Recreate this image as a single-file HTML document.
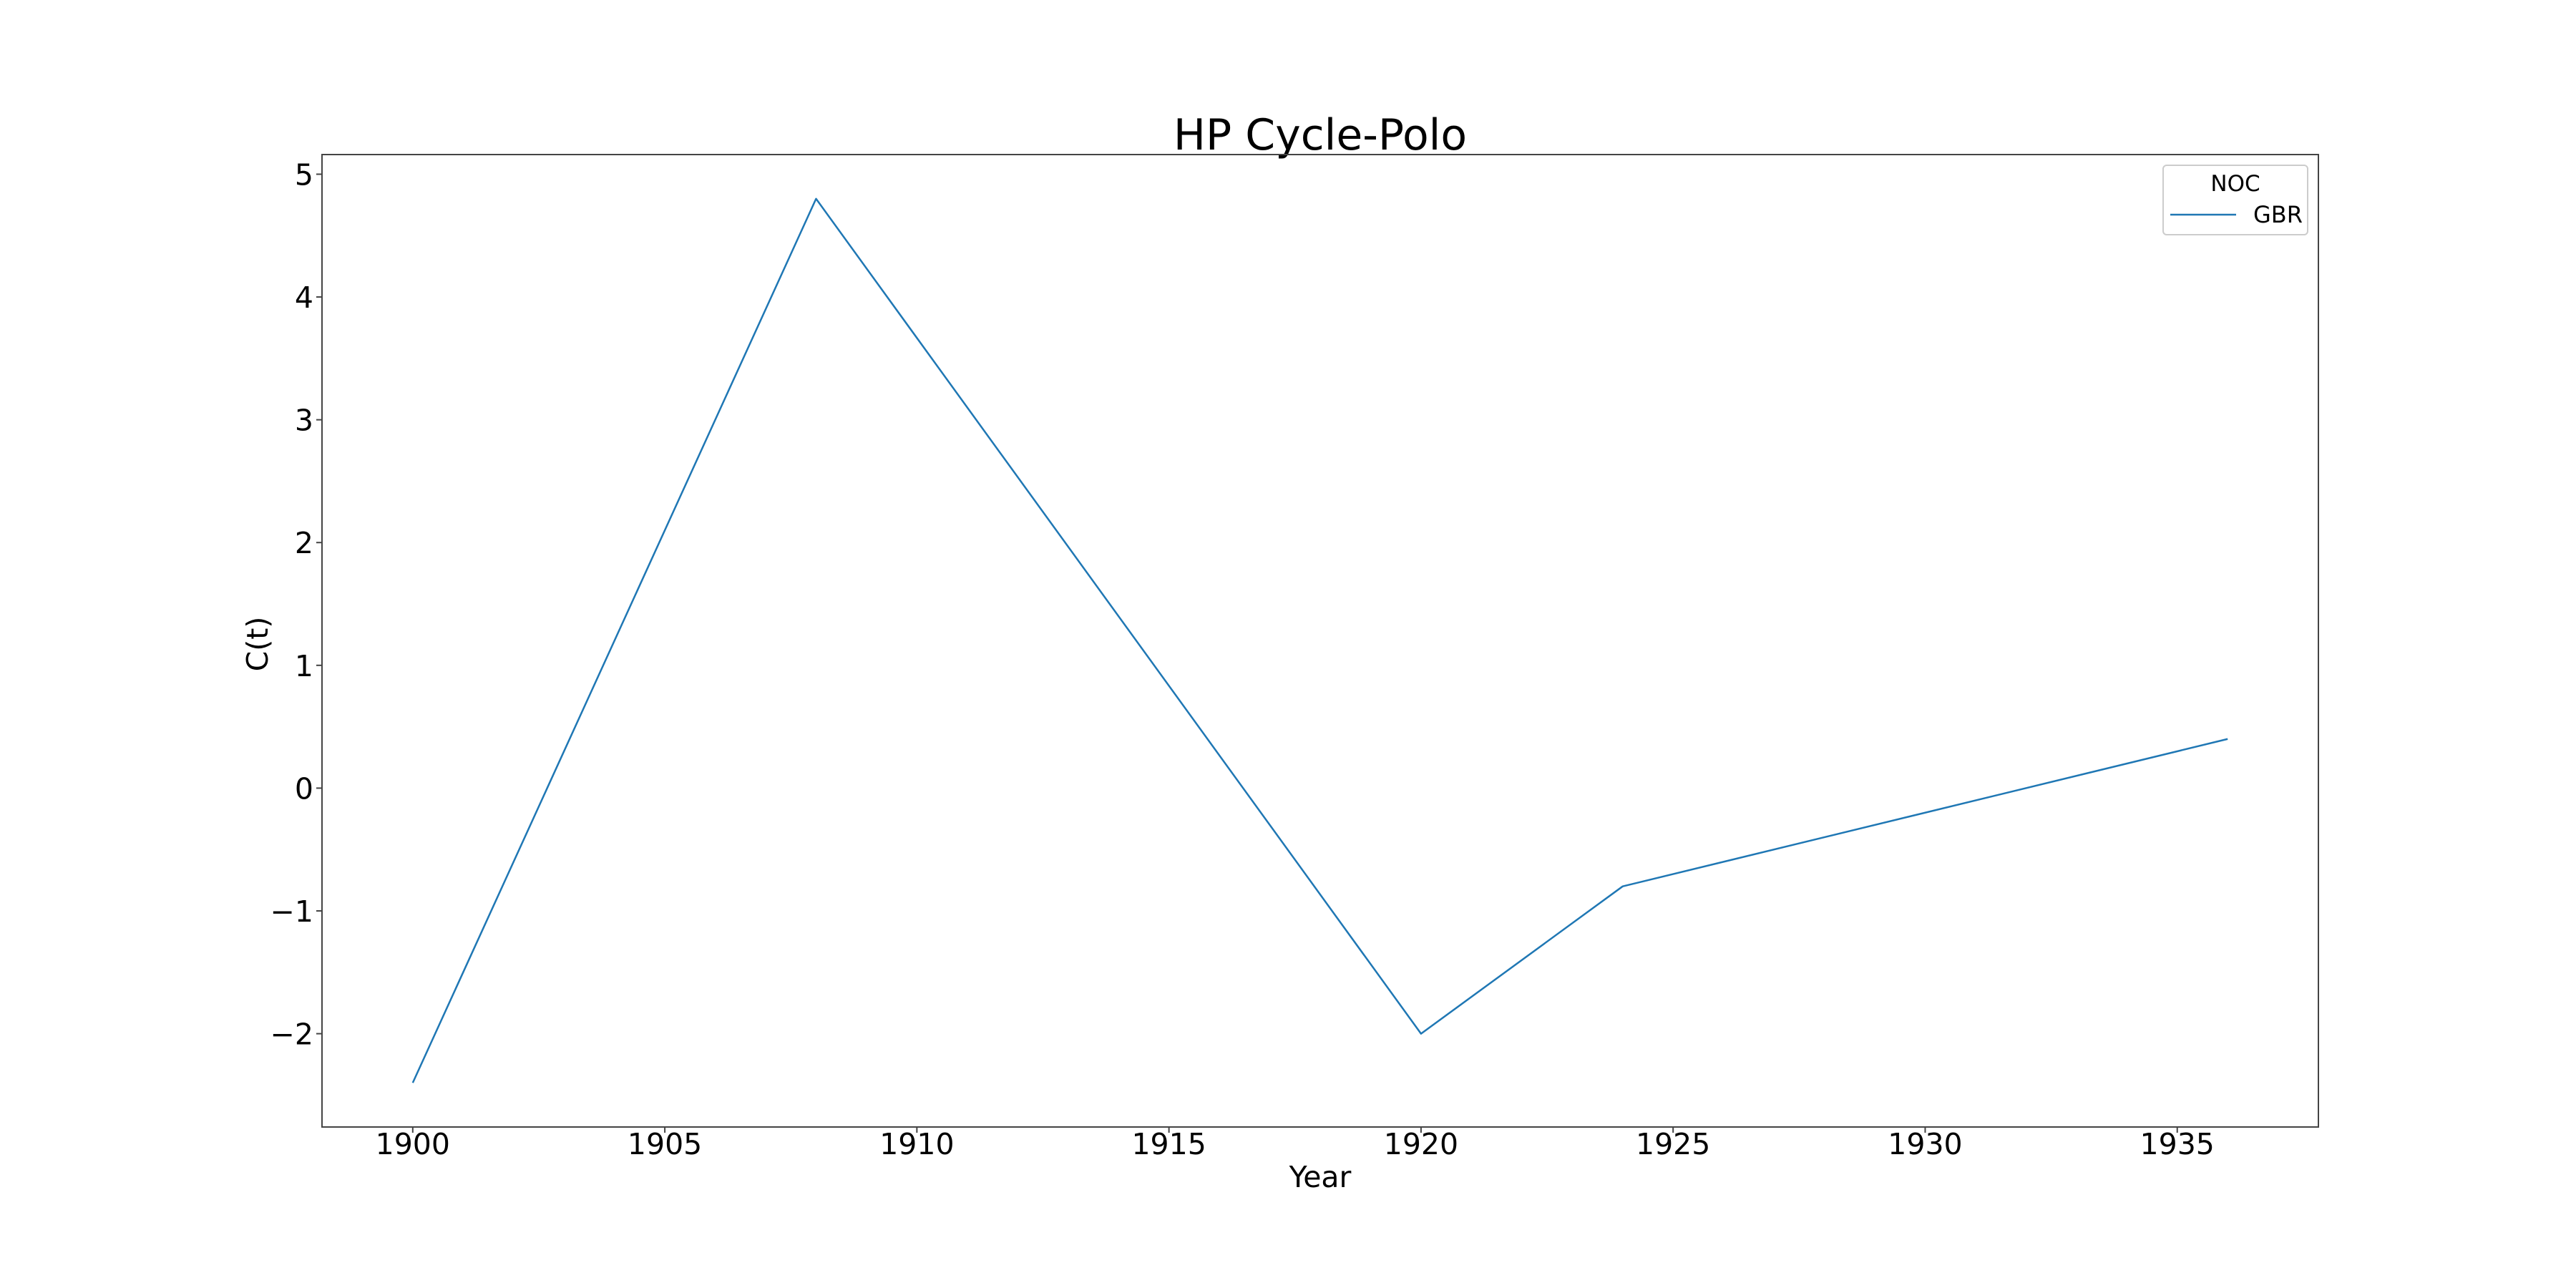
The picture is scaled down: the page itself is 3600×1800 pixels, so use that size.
<!DOCTYPE html>
<html><head><meta charset="utf-8"><style>html,body{margin:0;padding:0;background:#fff}svg{display:block}text{font-family:"DejaVu Sans","Liberation Sans",sans-serif}</style></head>
<body>
<svg id="chart" width="3600" height="1800" viewBox="0 0 3600 1800">
<rect width="3600" height="1800" fill="#fff"/>
<text x="1845" y="209" font-size="60" text-anchor="middle">HP Cycle-Polo</text>
<g id="xticks"></g>
<g id="yticks"></g>
<g id="series"></g>
<rect x="450" y="216" width="2790" height="1359" fill="none" stroke="#444" stroke-width="2"/>
<text x="1845" y="1659" font-size="41" text-anchor="middle">Year</text>
<text x="0" y="0" font-size="41" text-anchor="middle" transform="translate(374,900) rotate(-90)">C(t)</text>
<g>
<rect x="3023" y="231" width="202" height="97" rx="5" fill="#fff" fill-opacity="0.8" stroke="#ccc" stroke-width="2"/>
<text x="3124" y="267" font-size="31" text-anchor="middle">NOC</text>
<line x1="3033" y1="300" x2="3125" y2="300" stroke="#1f77b4" stroke-width="2.5"/>
<text x="3149" y="311" font-size="32">GBR</text>
</g>
</svg>
<script>
const years = [1900, 1908, 1920, 1924, 1936];
const values = [-2.4, 4.8, -2.0, -0.8, 0.4];
const xTickLabels = ["1900","1905","1910","1915","1920","1925","1930","1935"];
const yTickLabels = ["−2","−1","0","1","2","3","4","5"];
const xTickValues = [1900,1905,1910,1915,1920,1925,1930,1935];
const yTickValues = [-2,-1,0,1,2,3,4,5];

const L=450,R=3240,T=216,B=1575;
const xmin=1898.2,xmax=1937.8,ymin=-2.76,ymax=5.16;
function xs(v){return L+(v-xmin)/(xmax-xmin)*(R-L);}
function ys(v){return B-(v-ymin)/(ymax-ymin)*(B-T);}
const NS="http://www.w3.org/2000/svg";
function mk(tag,attrs,parent){const e=document.createElementNS(NS,tag);for(const k in attrs)e.setAttribute(k,attrs[k]);parent.appendChild(e);return e;}
const gx=document.getElementById('xticks'),gy=document.getElementById('yticks'),gs=document.getElementById('series');
xTickValues.forEach((v,i)=>{
  const t=mk('line',{x1:xs(v),x2:xs(v),y1:B,y2:B+8,stroke:'#444','stroke-width':2},gx);
  
  
  const l=mk('text',{x:xs(v),y:1613,'font-size':41,'text-anchor':'middle'},gx);
  l.textContent=xTickLabels[i];
  
  
});
yTickValues.forEach((v,i)=>{
  const t=mk('line',{x1:L-8,x2:L,y1:ys(v),y2:ys(v),stroke:'#444','stroke-width':2},gy);
  
  
  const l=mk('text',{x:438,y:ys(v)+15,'font-size':41,'text-anchor':'end'},gy);
  l.textContent=yTickLabels[i];
  
  
});
const pts=years.map((y,i)=>xs(y)+','+ys(values[i])).join(' ');
const pl=mk('polyline',{points:pts,fill:'none',stroke:'#1f77b4','stroke-width':2.5,'stroke-linejoin':'round'},gs);


</script>
</body></html>
